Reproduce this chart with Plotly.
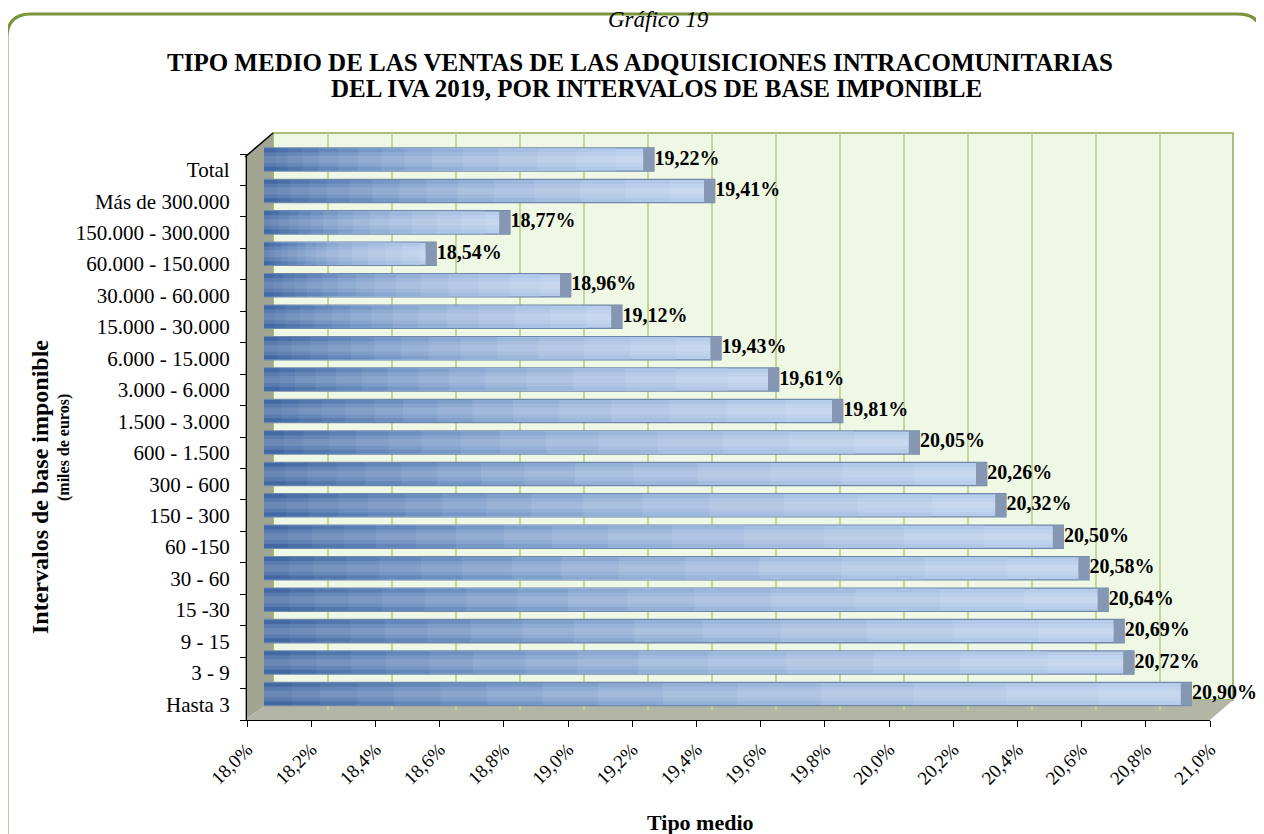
import plotly.graph_objects as go

categories = ["Hasta 3", "3 - 9", "9 - 15", "15 -30", "30 - 60", "60 -150", "150 - 300",
              "300 - 600", "600 - 1.500", "1.500 - 3.000", "3.000 - 6.000", "6.000 - 15.000",
              "15.000 - 30.000", "30.000 - 60.000", "60.000 - 150.000", "150.000 - 300.000",
              "Más de 300.000", "Total"]
values = [20.90, 20.72, 20.69, 20.64, 20.58, 20.50, 20.32, 20.26, 20.05, 19.81, 19.61, 19.43,
          19.12, 18.96, 18.54, 18.77, 19.41, 19.22]
x_ticks = [18.0 + 0.2 * i for i in range(16)]
x_min, x_max = 18.0, 21.0

W, H = 1264, 834
OFF = 8  # page body margin of the browser
L, R, T, B = 245 - OFF, 1233 - OFF, 133 - OFF, 720 - OFF  # paper area in pixels
PW, PH = R - L, B - T


def px(x):
    return (x - OFF - L) / PW


def py(y):
    return (B - (y - OFF)) / PH


FONT = "Liberation Serif, Times New Roman, serif"

fig = go.Figure()
base = [x_min] * len(values)
lengths = [v - x_min for v in values]

# rim of the cylinder (slightly darker outline)
fig.add_trace(go.Bar(
    y=categories, x=lengths, base=base, orientation="h", width=0.78,
    marker=dict(color="#6f87ab", line=dict(width=0)),
    hoverinfo="skip", showlegend=False, xaxis="x", yaxis="y",
))

# stepped horizontal gradient (dark on the left, light on the right)
steps = [(1.00, "#b8cdeb"), (0.90, "#b2c8e8"), (0.80, "#abc3e4"), (0.70, "#a4bde0"),
         (0.60, "#9cb7dc"), (0.51, "#93b0d7"), (0.43, "#8aa8d2"), (0.36, "#80a0cc"),
         (0.30, "#7698c6"), (0.24, "#6c8fc0"), (0.19, "#6387ba"), (0.14, "#5a7fb4"),
         (0.10, "#5278ae"), (0.06, "#4a70a9"), (0.03, "#4269a3")]
for frac, col in steps:
    fig.add_trace(go.Bar(
        y=categories, x=[d * frac for d in lengths], base=base, orientation="h", width=0.70,
        marker=dict(color=col, line=dict(width=0)),
        hoverinfo="skip", showlegend=False, xaxis="x", yaxis="y",
    ))

# cylinder shading: bright core
fig.add_trace(go.Bar(
    y=categories, x=lengths, base=base, orientation="h",
    width=0.46, marker=dict(color="rgba(255,255,255,0.12)", line=dict(width=0)),
    hoverinfo="skip", showlegend=False, xaxis="x", yaxis="y",
))
fig.add_trace(go.Bar(
    y=categories, x=lengths, base=base, orientation="h",
    width=0.22, marker=dict(color="rgba(255,255,255,0.10)", line=dict(width=0)),
    hoverinfo="skip", showlegend=False, xaxis="x", yaxis="y",
))

# end caps
cap = 0.035
fig.add_trace(go.Bar(
    y=categories, x=[cap] * len(values), base=[v - cap for v in values], orientation="h",
    width=0.74, marker=dict(color="#8597b2", line=dict(width=0)),
    hoverinfo="skip", showlegend=False, xaxis="x", yaxis="y",
))

# value labels
fig.add_trace(go.Scatter(
    y=categories, x=values, mode="text",
    text=["<b>" + f"{v:.2f}%".replace(".", ",") + "</b>" for v in values],
    textposition="middle right",
    textfont=dict(family=FONT, size=20, color="black"),
    hoverinfo="skip", showlegend=False, xaxis="x", yaxis="y", cliponaxis=False,
))

# front axes (ticks and labels)
fig.add_trace(go.Scatter(
    y=categories, x=values, mode="markers", marker=dict(opacity=0),
    hoverinfo="skip", showlegend=False, xaxis="x2", yaxis="y2",
))

idx_top = 17 + (159.5 - 133) / 31.44
idx_bot = -(710 - 694) / 31.44

shapes = [
    # back wall
    dict(type="rect", xref="paper", yref="paper", x0=px(273), x1=px(1233), y0=py(700), y1=py(133),
         fillcolor="#eff7e5", line=dict(color="#8cad4f", width=1.5), layer="below"),
    # left wall
    dict(type="path", xref="paper", yref="paper",
         path=f"M {px(245)} {py(157)} L {px(273)} {py(133)} L {px(273)} {py(700)} L {px(245)} {py(720)} Z",
         fillcolor="#a2a592", line=dict(width=0), layer="below"),
    dict(type="line", xref="paper", yref="paper", x0=px(245), y0=py(157), x1=px(273), y1=py(133),
         line=dict(color="black", width=1.5)),
    # floor
    dict(type="path", xref="paper", yref="paper",
         path=f"M {px(245)} {py(720)} L {px(1210)} {py(720)} L {px(1233)} {py(700)} L {px(273)} {py(700)} Z",
         fillcolor="#b3b5a5", line=dict(width=0), layer="below"),
    # outer rounded green frame
    dict(type="path", xref="paper", yref="paper",
         path=(f"M {px(7)} {py(845)} L {px(7)} {py(38)} Q {px(7)} {py(14)} {px(31)} {py(14)} "
               f"L {px(1238)} {py(14)} Q {px(1262)} {py(14)} {px(1262)} {py(38)} L {px(1262)} {py(845)}"),
         line=dict(color="#77963a", width=3)),
]

annotations = [
    dict(text="<i>Gráfico 19</i>", x=px(658), y=py(20)),
    dict(text="<b>TIPO MEDIO DE LAS VENTAS DE LAS ADQUISICIONES INTRACOMUNITARIAS</b>",
         x=px(640), y=py(62)),
    dict(text="<b>DEL IVA 2019, POR INTERVALOS DE BASE IMPONIBLE</b>", x=px(656), y=py(89)),
    dict(text="<b>Intervalos de base imponible</b>", x=px(40), y=py(487), textangle=-90),
    dict(text="<b>(miles de euros)</b>", x=px(64), y=py(448), textangle=-90),
    dict(text="<b>Tipo medio</b>", x=px(700), y=py(822)),
]
sizes = [23, 25, 25, 24, 16, 22]
for a, s in zip(annotations, sizes):
    a.update(xref="paper", yref="paper", showarrow=False, xanchor="center", yanchor="middle",
             font=dict(family=FONT, size=s, color="black"))

fig.update_layout(
    width=W, height=H,
    margin=dict(l=L, r=W - R, t=T, b=H - B, pad=0),
    paper_bgcolor="white", plot_bgcolor="rgba(0,0,0,0)",
    barmode="overlay",
    separators=",.",
    showlegend=False,
    font=dict(family=FONT, color="black"),
    xaxis=dict(domain=[px(264), px(1224)], range=[x_min, x_max], anchor="y",
               showgrid=True, gridcolor="#c3d79a", gridwidth=1.5, tickvals=x_ticks,
               showticklabels=False, ticks="", zeroline=False, showline=False, fixedrange=True),
    yaxis=dict(domain=[py(710), py(133)], range=[idx_bot, idx_top], anchor="x",
               type="category", categoryorder="array", categoryarray=categories,
               showticklabels=False, ticks="", showgrid=False, zeroline=False, showline=False),
    xaxis2=dict(domain=[px(247), px(1210)], range=[x_min, x_max], anchor="y2",
                tickvals=x_ticks, ticktext=[f"{t:.1f}%".replace(".", ",") for t in x_ticks],
                tickangle=-45, ticks="outside", ticklen=6, tickcolor="black",
                showline=True, linecolor="black", linewidth=1.2, showgrid=False, zeroline=False,
                tickfont=dict(family=FONT, size=19, color="black"), ticklabelstandoff=4),
    yaxis2=dict(domain=[py(720), py(154)], anchor="x2", type="category",
                categoryorder="array", categoryarray=categories, range=[-0.5, 17.5],
                tickson="boundaries", ticks="outside", ticklen=6, tickcolor="black",
                showline=True, linecolor="black", linewidth=1.2, showgrid=False, zeroline=False,
                tickfont=dict(family=FONT, size=21, color="black"), ticklabelstandoff=12),
    shapes=shapes,
    annotations=annotations,
)

fig.write_html("out.html")
